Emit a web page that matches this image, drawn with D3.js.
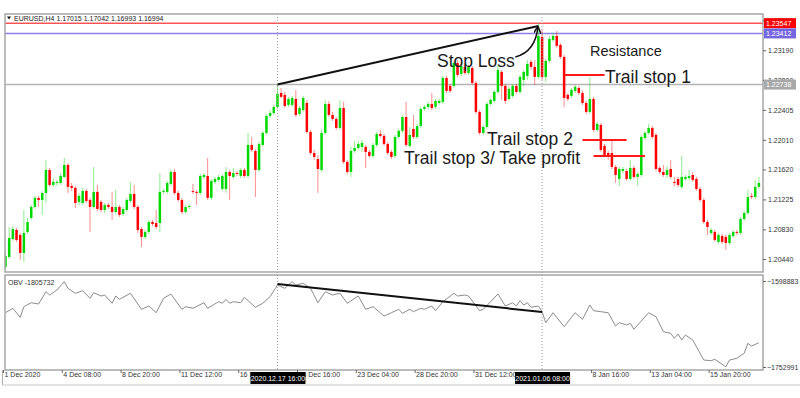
<!DOCTYPE html>
<html><head><meta charset="utf-8">
<script src="https://cdn.jsdelivr.net/npm/d3@7"></script>
<style>
body{margin:0;background:#fff;}
svg{display:block;}
text{font-family:"Liberation Sans",Arial,sans-serif;}
</style>
</head><body>
<svg id="c" width="800" height="398"></svg>
<script>
// ---------- DATA (EURUSD H4) ----------
const opens = [
1.20335,1.20467,1.20704,1.20823,1.20757,1.20519,1.20797,1.20981,1.21126,1.21245,
1.21218,1.21310,1.21613,1.21416,1.21442,1.21442,1.21521,1.21679,1.21403,1.21377,
1.21192,1.21178,1.21337,1.21218,1.21126,1.21324,1.21192,1.21086,1.21152,1.21126,
1.21060,1.21126,1.21033,1.21086,1.21205,1.21297,1.21126,1.20835,1.20731,1.20797,
1.20928,1.20914,1.20914,1.21324,1.21324,1.21429,1.21587,1.21310,1.21218,1.21060,
1.21126,1.21337,1.21324,1.21310,1.21521,1.21534,1.21245,1.21456,1.21482,1.21363,
1.21363,1.21587,1.21521,1.21573,1.21534,1.21613,1.21534,1.21943,1.21864,1.21613,
1.21943,1.22101,1.22325,1.22364,1.22444,1.22628,1.22602,1.22470,1.22470,1.22549,
1.22351,1.22404,1.22496,1.22115,1.21837,1.21758,1.21613,1.22101,1.22483,1.22338,
1.22285,1.22167,1.22430,1.21719,1.21587,1.21864,1.21903,1.21917,1.21917,1.21851,
1.21798,1.21943,1.22088,1.22062,1.21956,1.21851,1.21798,1.22048,1.22128,1.22311,
1.21930,1.22154,1.22048,1.22193,1.22417,1.22444,1.22483,1.22444,1.22496,1.22510,
1.22826,1.22721,1.22721,1.23023,1.22878,1.22971,1.22891,1.22957,1.22760,1.22378,
1.22101,1.22180,1.22483,1.22523,1.22642,1.22905,1.22721,1.22549,1.22589,1.22721,
1.22642,1.22800,1.22852,1.23037,1.22971,1.22839,1.23366,1.22839,1.23050,1.23327,
1.23380,1.23261,1.23103,1.22602,1.22589,1.22655,1.22694,1.22628,1.22496,1.22378,
1.22549,1.22141,1.22206,1.21930,1.21837,1.21837,1.21653,1.21495,1.21600,1.21600,
1.21495,1.21640,1.21521,1.21547,1.22035,1.22101,1.22167,1.22075,1.21640,1.21587,
1.21547,1.21626,1.21456,1.21495,1.21390,1.21495,1.21508,1.21547,1.21495,1.21363,
1.21218,1.20928,1.20783,1.20797,1.20665,1.20744,1.20731,1.20651,1.20744,1.20797,
1.20783,1.20968,1.21046,1.21271,1.21258,1.21390];
const highs = [
1.20559,1.20862,1.20875,1.20849,1.20783,1.21086,1.20981,1.21152,1.21271,1.21271,
1.21337,1.21745,1.21640,1.21508,1.21482,1.21573,1.21771,1.21705,1.21442,1.21403,
1.21310,1.21377,1.21363,1.21245,1.21653,1.21416,1.21218,1.21178,1.21178,1.21324,
1.21350,1.21152,1.21126,1.21245,1.21456,1.21416,1.21152,1.20862,1.20823,1.20954,
1.20954,1.21086,1.21573,1.21363,1.21469,1.21613,1.21626,1.21337,1.21245,1.21152,
1.21165,1.21429,1.21350,1.21560,1.21573,1.21771,1.21495,1.21521,1.21547,1.21560,
1.21653,1.21613,1.21640,1.21600,1.21640,1.21640,1.22101,1.22048,1.21890,1.21983,
1.22128,1.22351,1.22404,1.22470,1.22738,1.22694,1.22642,1.22576,1.22589,1.22668,
1.22457,1.22589,1.22536,1.22141,1.21877,1.21811,1.22141,1.22536,1.22523,1.22378,
1.22311,1.22536,1.22510,1.21745,1.21917,1.21996,1.21996,1.22009,1.21943,1.21877,
1.21969,1.22115,1.22141,1.22088,1.21983,1.21877,1.22075,1.22154,1.22338,1.22510,
1.22180,1.22338,1.22219,1.22444,1.22470,1.22510,1.22628,1.22549,1.22549,1.22852,
1.22852,1.22747,1.23050,1.23063,1.23010,1.23010,1.22997,1.22984,1.22787,1.22404,
1.22206,1.22510,1.22562,1.22668,1.22997,1.22931,1.22747,1.22708,1.22747,1.22747,
1.22865,1.22931,1.23063,1.23063,1.23063,1.23547,1.23459,1.23076,1.23380,1.23419,
1.23446,1.23287,1.23129,1.22628,1.22694,1.22734,1.22721,1.22655,1.22523,1.22839,
1.22576,1.22246,1.22233,1.21956,1.21864,1.21996,1.21679,1.21653,1.21653,1.21626,
1.21745,1.21666,1.21587,1.22075,1.22128,1.22219,1.22193,1.22101,1.21666,1.21679,
1.21666,1.21745,1.21521,1.21521,1.21798,1.21547,1.21613,1.21587,1.21521,1.21390,
1.21245,1.20954,1.20849,1.20823,1.20783,1.20770,1.20757,1.20783,1.20823,1.20823,
1.20994,1.21073,1.21350,1.21310,1.21482,1.21521];
const lows = [
1.20308,1.20440,1.20678,1.20665,1.20427,1.20401,1.20770,1.20954,1.21099,1.21126,
1.21020,1.21178,1.21390,1.21390,1.21403,1.21416,1.21508,1.21310,1.21337,1.21113,
1.21152,1.21152,1.21178,1.20797,1.21099,1.21073,1.21060,1.21046,1.21099,1.20954,
1.21033,1.20994,1.21007,1.21060,1.21178,1.21099,1.20783,1.20599,1.20704,1.20770,
1.20875,1.20835,1.20797,1.21297,1.21297,1.21403,1.21284,1.21192,1.21033,1.21033,
1.21099,1.21297,1.21152,1.21284,1.21495,1.21218,1.21218,1.21429,1.21456,1.21337,
1.21310,1.21218,1.21495,1.21534,1.21508,1.21508,1.21508,1.21851,1.21258,1.21587,
1.21917,1.22075,1.22298,1.22338,1.22417,1.22562,1.22430,1.22444,1.22444,1.22311,
1.22325,1.22378,1.22088,1.21811,1.21745,1.21310,1.21587,1.22075,1.22311,1.22259,
1.22141,1.22141,1.21692,1.21560,1.21521,1.21837,1.21877,1.21851,1.21640,1.21771,
1.21771,1.21917,1.22035,1.21930,1.21811,1.21758,1.21771,1.22022,1.22101,1.21917,
1.21903,1.22022,1.22022,1.22167,1.22391,1.22417,1.22404,1.22417,1.22470,1.22483,
1.22628,1.22628,1.22694,1.22839,1.22852,1.22865,1.22865,1.22734,1.22351,1.22075,
1.22075,1.22154,1.22457,1.22496,1.22615,1.22536,1.22483,1.22523,1.22562,1.22615,
1.22615,1.22721,1.22800,1.22931,1.22734,1.22813,1.22800,1.22774,1.23023,1.23301,
1.23222,1.23076,1.22444,1.22523,1.22562,1.22628,1.22602,1.22470,1.22351,1.22351,
1.22115,1.22115,1.21851,1.21785,1.21745,1.21626,1.21442,1.21403,1.21573,1.21469,
1.21469,1.21495,1.21403,1.21521,1.22009,1.22075,1.22022,1.21600,1.21560,1.21521,
1.21508,1.21495,1.21403,1.21390,1.21363,1.21469,1.21482,1.21456,1.21337,1.21192,
1.20901,1.20757,1.20757,1.20665,1.20638,1.20638,1.20559,1.20625,1.20718,1.20757,
1.20757,1.20941,1.21020,1.21231,1.21231,1.21363];
const closes = [
1.20480,1.20718,1.20835,1.20691,1.20519,1.20783,1.20928,1.21126,1.21245,1.21218,
1.21310,1.21613,1.21416,1.21456,1.21456,1.21534,1.21679,1.21390,1.21377,1.21178,
1.21271,1.21337,1.21205,1.21126,1.21324,1.21099,1.21086,1.21152,1.21126,1.21060,
1.21126,1.21020,1.21099,1.21218,1.21297,1.21126,1.20823,1.20731,1.20797,1.20928,
1.20901,1.20862,1.21324,1.21337,1.21442,1.21587,1.21310,1.21218,1.21060,1.21126,
1.21139,1.21324,1.21310,1.21534,1.21547,1.21245,1.21469,1.21495,1.21521,1.21534,
1.21587,1.21534,1.21573,1.21560,1.21613,1.21534,1.21943,1.21877,1.21613,1.21956,
1.22101,1.22325,1.22364,1.22444,1.22615,1.22576,1.22457,1.22549,1.22562,1.22338,
1.22430,1.22562,1.22115,1.21837,1.21785,1.21626,1.22101,1.22483,1.22338,1.22285,
1.22167,1.22430,1.21719,1.21587,1.21864,1.21903,1.21956,1.21969,1.21851,1.21798,
1.21943,1.22088,1.22062,1.21956,1.21837,1.21785,1.22048,1.22128,1.22311,1.21943,
1.22075,1.22048,1.22193,1.22417,1.22444,1.22483,1.22430,1.22523,1.22523,1.22826,
1.22655,1.22655,1.23023,1.22865,1.22984,1.22891,1.22971,1.22760,1.22378,1.22101,
1.22180,1.22483,1.22536,1.22642,1.22931,1.22721,1.22523,1.22681,1.22721,1.22642,
1.22839,1.22905,1.23010,1.22971,1.22839,1.23380,1.22839,1.23050,1.23340,1.23380,
1.23248,1.23103,1.22562,1.22549,1.22668,1.22708,1.22628,1.22496,1.22378,1.22549,
1.22141,1.22219,1.21877,1.21811,1.21785,1.21653,1.21547,1.21626,1.21626,1.21495,
1.21640,1.21521,1.21560,1.22048,1.22101,1.22167,1.22048,1.21626,1.21587,1.21547,
1.21613,1.21521,1.21442,1.21416,1.21521,1.21521,1.21534,1.21482,1.21363,1.21218,
1.20928,1.20862,1.20823,1.20691,1.20757,1.20665,1.20651,1.20757,1.20797,1.20783,
1.20968,1.21046,1.21258,1.21258,1.21390,1.21442];

// OBV readings (bar index, value)
const obvIdx = [
0,2,4,5,7,9,11,12,14,16,
17,19,21,23,24,26,27,29,30,31,
34,37,39,41,43,45,48,49,51,54,
55,58,59,60,61,62,64,65,68,70,
72,74,76,78,79,81,83,85,87,89,
91,93,96,98,100,103,105,107,108,110,
111,113,114,116,117,119,122,123,125,126,
129,130,134,136,138,139,140,141,142,143,
145,146,147,149,152,155,157,159,160,162,
164,166,167,169,170,171,175,177,179,181,
182,183,184,185,187,190,192,193,196,197,
199,201,202,203,205];
const obvVal = [
-1655700,-1647800,-1663900,-1644900,-1637800,-1640100,-1618100,-1624000,-1615000,-1600100,
-1612000,-1620900,-1616300,-1629900,-1619800,-1625800,-1624000,-1638800,-1625800,-1631700,
-1620900,-1649600,-1643700,-1655700,-1629900,-1622200,-1649600,-1644900,-1647800,-1637800,
-1647800,-1636000,-1638800,-1631700,-1638800,-1636000,-1637800,-1628100,-1646000,-1638800,
-1627000,-1606100,-1612000,-1600100,-1606100,-1603000,-1612000,-1637800,-1618100,-1624000,
-1620900,-1638800,-1625800,-1649600,-1644900,-1661600,-1655700,-1649600,-1656800,-1649600,
-1653900,-1647800,-1649600,-1643700,-1652100,-1636000,-1620900,-1625800,-1624000,-1625800,
-1652100,-1649600,-1622200,-1643700,-1637800,-1643700,-1634200,-1641900,-1637800,-1646000,
-1643700,-1653900,-1673600,-1655700,-1680800,-1655700,-1667500,-1641900,-1652100,-1653900,
-1655700,-1679500,-1673600,-1677700,-1674700,-1685400,-1655700,-1662900,-1689700,-1692600,
-1701600,-1693900,-1704600,-1695700,-1704600,-1740500,-1741700,-1739200,-1752500,-1740500,
-1737400,-1728400,-1710500,-1715400,-1709400];

const priceTicks = [1.23585,1.23190,1.22800,1.22405,1.22010,1.21620,1.21225,1.20830,1.20440];
const obvTicks = [-1598883,-1752991];
const timeTickIdx = [0,16,32,48,64,80,96,112,128,160,176,192];
const timeTickLabels = ["1 Dec 2020","4 Dec 08:00","8 Dec 20:00","11 Dec 12:00","16 Dec 00:00","18 Dec 16:00",
  "23 Dec 04:00","28 Dec 20:00","31 Dec 12:00","8 Jan 16:00","13 Jan 04:00","15 Jan 20:00"];
const crossIdx = [74,146];
const crossLabels = ["2020.12.17 16:00","2021.01.06 08:00"];
const levelPrices = [1.23547,1.23412,1.22738];     // resistance / stop lines
const trailLevels = [1.22865,1.22009,1.21798];     // trail stop 1,2,3
const trailFrom = [152,157,160], trailTo = [163,169,174];
const trendPrice = [1.22738,1.23511], trendIdx = [74,145];
const obvTrendVal = [-1604300,-1654400], obvTrendIdx = [74,146];
const headerText = "EURUSD,H4  1.17015 1.17042 1.16993 1.16994";
const obvTitle = "OBV -1805732";

// ---------- LAYOUT ----------
const svg = d3.select('#c');
const PL=5, PR=763, PT=14, PB=272, OT=275, OB=370;
const bull="#00d800", bear="#ff0000";
const x = d3.scaleLinear().domain([0,205]).range([5.5,758.9]);
const y = d3.scaleLinear().domain([1.2044,1.23585]).range([259,20.3]);
const yo = d3.scaleLinear().domain([-1752991,-1598883]).range([367,281]);

const defs = svg.append('defs');
defs.append('clipPath').attr('id','cm').append('rect').attr('x',PL).attr('y',PT).attr('width',PR-PL).attr('height',PB-PT);
defs.append('clipPath').attr('id','co').append('rect').attr('x',PL).attr('y',OT).attr('width',PR-PL).attr('height',OB-OT);
defs.append('marker').attr('id','arr').attr('viewBox','0 0 10 10').attr('refX',9).attr('refY',5)
  .attr('markerWidth',5).attr('markerHeight',5).attr('orient','auto-start-reverse')
  .append('path').attr('d','M0,0 L10,5 L0,10').attr('fill','none').attr('stroke','#111').attr('stroke-width',2);

// header
svg.append('path').attr('d',`M7,16.5 L11,16.5 L9,19.5 Z`).attr('fill','#111');
svg.append('text').attr('x',14).attr('y',21).attr('font-size',7).attr('fill','#222').text(headerText);

// horizontal levels
const levelColors = ["#ff0000","#8a80e6","#b4b4b4"];
const levelWidths = [1,1.5,1.5];
const gm = svg.append('g').attr('clip-path','url(#cm)');
levelPrices.forEach((p,k)=>{
  gm.append('line').attr('x1',PL).attr('x2',PR).attr('y1',y(p)).attr('y2',y(p))
    .attr('stroke',levelColors[k]).attr('stroke-width',levelWidths[k]);
});

// crosshair dotted verticals
crossIdx.forEach(i=>{
  svg.append('line').attr('x1',x(i)).attr('x2',x(i)).attr('y1',PT).attr('y2',OB)
    .attr('stroke','#9a9a9a').attr('stroke-dasharray','1,2');
});

// candles
const candles = d3.range(opens.length).map(i=>({i,o:opens[i],h:highs[i],l:lows[i],c:closes[i]}));
gm.selectAll('line.w').data(candles).join('line').attr('class','w')
  .attr('x1',d=>x(d.i)).attr('x2',d=>x(d.i)).attr('y1',d=>y(d.h)).attr('y2',d=>y(d.l))
  .attr('stroke',d=>d.c>=d.o?bull:bear).attr('stroke-opacity',0.45).attr('stroke-width',1);
gm.selectAll('rect.b').data(candles).join('rect').attr('class','b')
  .attr('x',d=>x(d.i)-1.25).attr('width',2.5)
  .attr('y',d=>y(Math.max(d.o,d.c)))
  .attr('height',d=>Math.max(1,Math.abs(y(d.o)-y(d.c))))
  .attr('fill',d=>d.c>=d.o?bull:bear);

// trail stop lines
trailLevels.forEach((p,k)=>{
  gm.append('line').attr('x1',x(trailFrom[k])).attr('x2',x(trailTo[k])).attr('y1',y(p)).attr('y2',y(p))
    .attr('stroke','#ff1a1a').attr('stroke-width',2);
});

// trend line (price) with arrow head
gm.append('line').attr('x1',x(trendIdx[0])).attr('y1',y(trendPrice[0]))
  .attr('x2',x(trendIdx[1])).attr('y2',y(trendPrice[1]))
  .attr('stroke','#111').attr('stroke-width',2);
const ex = x(trendIdx[1]), ey = y(trendPrice[1]);
svg.append('path').attr('d',`M${ex-23},${ey+31} Q${ex-3},${ey+26} ${ex-0.5},${ey+1}`)
  .attr('fill','none').attr('stroke','#111').attr('stroke-width',1.5).attr('marker-end','url(#arr)');

// annotation texts
const ann = svg.append('g').attr('font-family','"Open Sans",sans-serif').attr('fill','#1a1a1a').attr('font-size',17.5);
ann.append('text').attr('x',437).attr('y',67).text('Stop Loss');
ann.append('text').attr('x',605).attr('y',83).text('Trail stop 1');
ann.append('text').attr('x',487).attr('y',145).text('Trail stop 2');
ann.append('text').attr('x',404).attr('y',164).text('Trail stop 3/ Take profit');
svg.append('text').attr('x',590).attr('y',56).attr('font-size',14.5).attr('fill','#1a1a1a').text('Resistance');

// OBV panel
const go = svg.append('g').attr('clip-path','url(#co)');
const obvPts = obvIdx.map((i,k)=>[x(i),yo(obvVal[k])]);
go.append('path').attr('d',d3.line()(obvPts)).attr('fill','none').attr('stroke','#8c8c8c').attr('stroke-width',1);
go.append('line').attr('x1',x(obvTrendIdx[0])).attr('y1',yo(obvTrendVal[0]))
  .attr('x2',x(obvTrendIdx[1])).attr('y2',yo(obvTrendVal[1])).attr('stroke','#111').attr('stroke-width',2);
svg.append('text').attr('x',8).attr('y',285).attr('font-size',7).attr('fill','#333').text(obvTitle);

// frames
svg.append('rect').attr('x',PL).attr('y',PT).attr('width',PR-PL).attr('height',PB-PT)
  .attr('fill','none').attr('stroke','#a6a6a6').attr('stroke-width',1.5);
svg.append('rect').attr('x',PL).attr('y',OT).attr('width',PR-PL).attr('height',OB-OT)
  .attr('fill','none').attr('stroke','#a6a6a6').attr('stroke-width',1.5);
svg.append('line').attr('x1',2.5).attr('x2',2.5).attr('y1',OB).attr('y2',385).attr('stroke','#b0b0b0');
svg.append('line').attr('x1',2.5).attr('x2',800).attr('y1',385).attr('y2',385).attr('stroke','#c8c8c8');

// right price axis
const ay = svg.append('g').attr('transform',`translate(${PR},0)`)
  .call(d3.axisRight(y).tickValues(priceTicks).tickSize(3).tickPadding(2).tickFormat(d3.format('.5f')));
ay.select('.domain').remove();
ay.selectAll('text').attr('font-size',7).attr('fill','#333').attr('font-family','"Liberation Sans",Arial,sans-serif');
ay.selectAll('line').attr('stroke','#666');

// OBV axis
const ao = svg.append('g').attr('transform',`translate(${PR},0)`)
  .call(d3.axisRight(yo).tickValues(obvTicks).tickSize(3).tickPadding(1).tickFormat(d3.format('d')));
ao.select('.domain').remove();
ao.selectAll('text').attr('font-size',7).attr('fill','#333').attr('font-family','"Liberation Sans",Arial,sans-serif');
ao.selectAll('line').attr('stroke','#666');

// price labels on the right
const boxColors = ["#ff0000","#7466e0","#a8a8a8"];
levelPrices.forEach((p,k)=>{
  svg.append('rect').attr('x',PR+1).attr('y',y(p)-5).attr('width',32).attr('height',10).attr('fill',boxColors[k]);
  svg.append('text').attr('x',PR+3).attr('y',y(p)+2.8).attr('font-size',7).attr('fill','#fff').text(d3.format('.5f')(p));
});

// bottom time axis
const ax = svg.append('g').attr('transform',`translate(0,${OB})`)
  .call(d3.axisBottom(x).tickValues(timeTickIdx).tickSize(3).tickFormat((d,k)=>timeTickLabels[k]));
ax.select('.domain').remove();
ax.selectAll('.tick line').attr('stroke','#666').attr('transform','translate(-2.5,0)');
ax.selectAll('text').attr('font-size',7).attr('fill','#333').attr('text-anchor','start')
  .attr('dx',-1.5).attr('dy',1).attr('font-family','"Liberation Sans",Arial,sans-serif');

// crosshair time boxes
crossIdx.forEach((i,k)=>{
  svg.append('rect').attr('x',x(i)-27).attr('y',372).attr('width',55).attr('height',12).attr('fill','#000');
  svg.append('text').attr('x',x(i)+0.5).attr('y',380.8).attr('text-anchor','middle').attr('font-size',7)
    .attr('fill','#fff').text(crossLabels[k]);
});
</script>
</body></html>
